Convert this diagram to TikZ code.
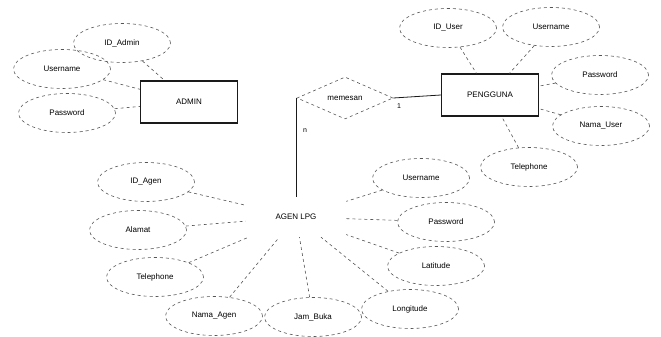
\documentclass[tikz,border=0pt]{standalone}
\usepackage{fontspec}
\setmainfont{Liberation Sans}
\usetikzlibrary{shapes.geometric}
\definecolor{ink}{HTML}{1A1A1A}
\definecolor{attrline}{HTML}{555555}

\begin{document}
\begin{tikzpicture}[x=1pt,y=-1pt,font=\fontsize{8}{10}\selectfont,
    entity/.style={draw=ink,line width=1.2pt,minimum width=97pt,minimum height=42pt,inner sep=2pt},
    attr/.style={ellipse,draw=attrline,dashed,line width=0.6pt,minimum width=97pt,minimum height=39pt,inner sep=1pt},
    rel/.style={diamond,draw=attrline,dashed,line width=0.6pt,aspect=2.3,minimum width=96pt,minimum height=42pt,inner sep=1pt},
    link/.style={draw=attrline,dashed,line width=0.6pt},
    card/.style={font=\fontsize{7}{8}\selectfont}]
  \useasboundingbox (0,0) rectangle (661,337);

  % ADMIN
  \node[entity] (admin) at (189,102) {ADMIN};
  \node[attr] (aid) at (122,43) {ID\_Admin};
  \node[attr] (auser) at (62,69) {Username};
  \node[attr] (apass) at (67,113) {Password};
  \draw[link] (aid) -- (admin);
  \draw[link] (auser) -- (admin);
  \draw[link] (apass) -- (admin);

  % PENGGUNA
  \node[entity] (peng) at (490,95) {PENGGUNA};
  \node[attr] (pid) at (448,28) {ID\_User};
  \node[attr] (puser) at (551,27) {Username};
  \node[attr] (ppass) at (600,75) {Password};
  \node[attr] (pnama) at (601,126) {Nama\_User};
  \node[attr] (ptelp) at (529,167) {Telephone};
  \draw[link] (pid) -- (peng);
  \draw[link] (puser) -- (peng);
  \draw[link] (ppass) -- (peng);
  \draw[link] (pnama) -- (peng);
  \draw[link] (ptelp) -- (peng);

  % relasi
  \node[rel] (pesan) at (345,98) {memesan};
  \node (agen) at (296,217) [minimum width=100pt,minimum height=40pt,inner sep=0pt] {AGEN LPG};
  \draw[ink,line width=0.8pt] (pesan.east) -- (peng.west);
  \draw[ink,line width=0.8pt] (pesan.west) -- (pesan.west |- agen.north);
  \node[card] (c1) at (399,106) {1};
  \node[card] (cn) at (305,131) {n};

  % AGEN LPG
  \node[attr] (gid) at (146,182) {ID\_Agen};
  \node[attr] (galamat) at (138,230) {Alamat};
  \node[attr] (gtelp) at (155,277) {Telephone};
  \node[attr] (gnama) at (214,316) {Nama\_Agen};
  \node[attr] (gjam) at (313,317) {Jam\_Buka};
  \node[attr] (guser) at (421,178) {Username};
  \node[attr] (gpass) at (446,222) {Password};
  \node[attr] (glat) at (436,266) {Latitude};
  \node[attr] (glong) at (410,309) {Longitude};
  \foreach \a in {gid,galamat,gtelp,gnama,gjam,guser,gpass,glat,glong}
    \draw[link] (\a) -- (agen);
\end{tikzpicture}
\end{document}
